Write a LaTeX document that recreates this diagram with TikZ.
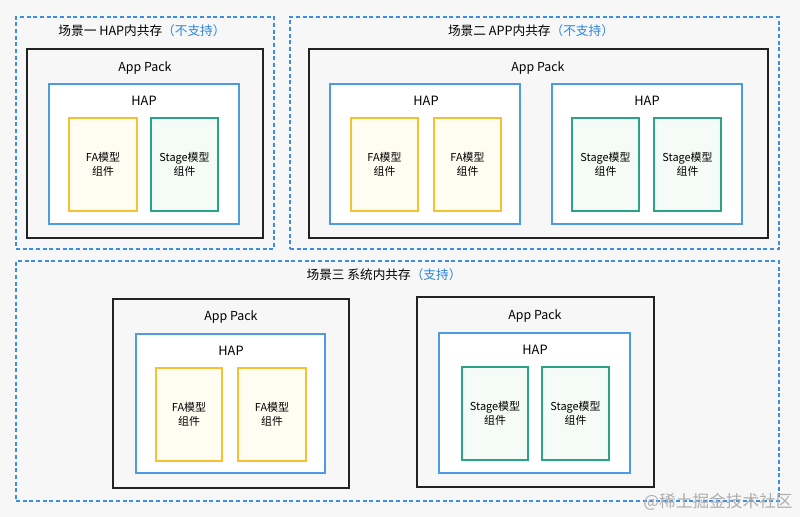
\documentclass[tikz,border=0pt]{standalone}
\usepackage{fontspec}
\setmainfont{Noto Sans CJK SC}
\newfontfamily\cjk{Noto Sans CJK SC}
\definecolor{bg}{HTML}{F7F7F7}
\definecolor{dashblue}{HTML}{3A8EE6}
\definecolor{hapblue}{HTML}{4C9BE3}
\definecolor{txtblue}{HTML}{2D86DA}
\definecolor{faedge}{HTML}{F6C030}
\definecolor{fafill}{HTML}{FFFDF2}
\definecolor{stedge}{HTML}{2AA486}
\definecolor{stfill}{HTML}{F5FBF6}
\definecolor{boxedge}{HTML}{222222}
\definecolor{wm}{HTML}{AEAEAE}
\tikzset{
  scenebox/.style={draw=dashblue, line width=0.8pt, dash pattern=on 3pt off 2pt},
  packbox/.style={draw=boxedge, line width=0.85pt, fill=bg},
  hapbox/.style={draw=hapblue, line width=0.85pt, fill=white},
  fabox/.style={draw=faedge, line width=0.85pt, fill=fafill, font=\fontsize{8.2}{10}\selectfont, align=center},
  stbox/.style={draw=stedge, line width=0.85pt, fill=stfill, font=\fontsize{8.2}{10}\selectfont, align=center},
  titletxt/.style={font=\fontsize{9.5}{11}\selectfont, inner sep=0pt},
  packtxt/.style={font=\fontsize{9.3}{11}\selectfont, inner sep=0pt},
  haptxt/.style={font=\fontsize{9.6}{11}\selectfont, inner sep=0pt},
}
% #1 name, #2 style, #3 x1, #4 y1, #5 x2, #6 y2, #7 text
\newcommand\mybox[7]{%
  \node[#2, inner sep=0pt, minimum width={(#5-#3)*0.75pt}, minimum height={(#6-#4)*0.75pt}] (#1) at ({(#3+#5)/2},{(#4+#6)/2}) {#7};}
\begin{document}
\begin{tikzpicture}[x=0.75pt, y=-0.75pt]
\fill[bg] (0,0) rectangle (800,517);
\useasboundingbox (0,0) rectangle (800,517);

% Scenario 1
\mybox{s1}{scenebox}{16}{17}{274}{249}{}
\node[titletxt] (t1) at (142,31) {场景一 HAP内共存\textcolor{txtblue}{（不支持）}};
\mybox{p1}{packbox}{27}{49}{263}{238}{}
\node[packtxt] (p1l) at (145,68) {App Pack};
\mybox{h1}{hapbox}{49}{84}{239}{224}{}
\node[haptxt] (h1l) at (144,101) {HAP};
\mybox{f1}{fabox}{69}{118}{137}{211}{FA模型\\组件}
\mybox{g1}{stbox}{151}{118}{218}{211}{Stage模型\\组件}

% Scenario 2
\mybox{s2}{scenebox}{290}{17}{779}{249}{}
\node[titletxt] (t2) at (531,31) {场景二 APP内共存\textcolor{txtblue}{（不支持）}};
\mybox{p2}{packbox}{309}{49}{768}{238}{}
\node[packtxt] (p2l) at (538,68) {App Pack};
\mybox{h2}{hapbox}{330}{84}{520}{224}{}
\node[haptxt] (h2l) at (426,101) {HAP};
\mybox{f2}{fabox}{351}{118}{418}{211}{FA模型\\组件}
\mybox{f3}{fabox}{434}{118}{501}{211}{FA模型\\组件}
\mybox{h3}{hapbox}{552}{84}{742}{224}{}
\node[haptxt] (h3l) at (647,101) {HAP};
\mybox{g2}{stbox}{572}{118}{639}{211}{Stage模型\\组件}
\mybox{g3}{stbox}{654}{118}{721}{211}{Stage模型\\组件}

% Scenario 3
\mybox{s3}{scenebox}{16}{261}{779}{501}{}
\node[titletxt] (t3) at (384,275) {场景三 系统内共存\textcolor{txtblue}{（支持）}};
\mybox{p3}{packbox}{113}{299}{349}{488}{}
\node[packtxt] (p3l) at (231,317) {App Pack};
\mybox{h4}{hapbox}{136}{334}{325}{473}{}
\node[haptxt] (h4l) at (231,351) {HAP};
\mybox{f4}{fabox}{156}{368}{222}{461}{FA模型\\组件}
\mybox{f5}{fabox}{238}{368}{306}{461}{FA模型\\组件}
\mybox{p4}{packbox}{417}{297}{654}{487}{}
\node[packtxt] (p4l) at (535,316) {App Pack};
\mybox{h5}{hapbox}{439}{333}{630}{473}{}
\node[haptxt] (h5l) at (535,350) {HAP};
\mybox{g4}{stbox}{462}{367}{528}{460}{Stage模型\\组件}
\mybox{g5}{stbox}{542}{367}{609}{460}{Stage模型\\组件}

% watermark
\node[font=\fontsize{12.5}{14}\selectfont, text=wm, inner sep=0pt] (wmk) at (718,502) {@稀土掘金技术社区};
\end{tikzpicture}
\end{document}
